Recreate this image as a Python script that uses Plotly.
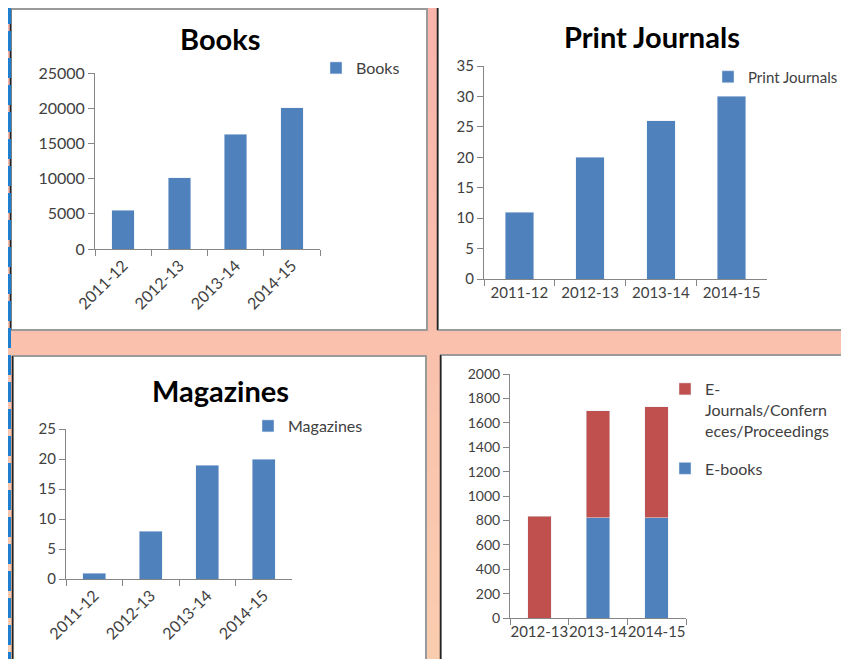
import plotly.graph_objects as go

# the page body keeps its 8px margin, so the figure is made smaller and everything is shifted
W, H = 849, 667
OFF = 8
FW, FH = W - OFF, H - 2 * OFF

# data
years4 = ["2011-12", "2012-13", "2013-14", "2014-15"]
books = [5500, 10100, 16300, 20100]
print_journals = [11, 20, 26, 30]
magazines = [1, 8, 19, 20]

years3 = ["2012-13", "2013-14", "2014-15"]
e_books = [0, 820, 820]
e_journals = [835, 880, 910]

BLUE = "#4F81BD"
RED = "#C0504D"
AXIS = "#868686"
TXT = "#404040"
FONT = "Lato, Calibri, sans-serif"


def px(x):
    return (x - OFF) / FW


def py(y):
    return 1 - (y - OFF) / FH


fig = go.Figure()

fig.add_trace(go.Bar(x=years4, y=books, name="Books", marker_color=BLUE,
                     xaxis="x", yaxis="y", legend="legend"))
fig.add_trace(go.Bar(x=years4, y=print_journals, name="Print Journals", marker_color=BLUE,
                     xaxis="x2", yaxis="y2", legend="legend2"))
fig.add_trace(go.Bar(x=years4, y=magazines, name="Magazines", marker_color=BLUE,
                     xaxis="x3", yaxis="y3", legend="legend3"))
fig.add_trace(go.Bar(x=years3, y=e_books, name="E-books", marker_color=BLUE,
                     xaxis="x4", yaxis="y4", legend="legend4", legendgroup="b",
                     legendrank=2))
fig.add_trace(go.Bar(x=years3, y=e_journals, name="E-<br>Journals/Confern<br>eces/Proceedings",
                     marker_color=RED, xaxis="x4", yaxis="y4", legend="legend4",
                     legendgroup="a", legendrank=1))


def xax(x0, x1, y_anchor, angle, size):
    return dict(domain=[px(x0), px(x1)], anchor=y_anchor, type="category",
                showline=True, linecolor=AXIS, linewidth=1, ticks="outside",
                tickson="boundaries", ticklen=6, tickcolor=AXIS, tickangle=angle,
                showgrid=False, tickfont=dict(size=size, color=TXT, family=FONT),
                fixedrange=True)


def yax(y0, y1, x_anchor, top, step, size):
    return dict(domain=[py(y1), py(y0)], anchor=x_anchor, range=[0, top], dtick=step,
                showline=True, linecolor=AXIS, linewidth=1, ticks="outside",
                ticklen=6, tickcolor=AXIS, showgrid=False, zeroline=False,
                tickformat="d", tickfont=dict(size=size, color=TXT, family=FONT),
                fixedrange=True)


shapes = []

# pink-to-peach background, drawn as horizontal bands
top_rgb, bot_rgb = (249, 180, 172), (250, 204, 174)
bands = 24
for i in range(bands):
    t = i / (bands - 1)
    c = tuple(round(a + (b - a) * t) for a, b in zip(top_rgb, bot_rgb))
    shapes.append(dict(type="rect", xref="paper", yref="paper", layer="below",
                       x0=-0.02, x1=1.02, y0=1 - (i + 1) / bands - 0.002, y1=1 - i / bands + 0.002,
                       fillcolor="rgb(%d,%d,%d)" % c, line=dict(width=0)))

# white panels
panels = [(11, 9, 427, 330), (438, 6, 860, 330), (13, 356, 426, 680), (441, 355, 860, 680)]
for x0, y0, x1, y1 in panels:
    shapes.append(dict(type="rect", xref="paper", yref="paper", layer="below",
                       x0=px(x0), x1=px(x1), y0=py(y1), y1=py(y0),
                       fillcolor="white", line=dict(color="#9a9a9a", width=2)))
    shapes.append(dict(type="line", xref="paper", yref="paper", layer="below",
                       x0=px(x0 - 0.5), x1=px(x0 - 0.5), y0=py(y1), y1=py(y0),
                       line=dict(color="#222222", width=1.5)))

# blue dashed strip on the left edge
shapes.append(dict(type="line", xref="paper", yref="paper", x0=px(9.5), x1=px(9.5),
                   y0=-0.02, y1=1.02, line=dict(color="#1E7FD0", width=3, dash="20px,7px")))

titles = [("Books", 220, 38), ("Print Journals", 652, 37), ("Magazines", 220, 390)]
annotations = [dict(text="<b>%s</b>" % t, x=px(x), y=py(y), xref="paper", yref="paper",
                    showarrow=False, xanchor="center", yanchor="middle",
                    font=dict(size=29, color="black", family=FONT))
               for t, x, y in titles]


def leg(x, y, anchor="middle", size=16):
    return dict(x=px(x), y=py(y), xanchor="left", yanchor=anchor, bgcolor="rgba(0,0,0,0)",
                font=dict(size=size, color=TXT, family=FONT), itemclick=False)


fig.update_layout(
    width=FW, height=FH, margin=dict(l=0, r=0, t=0, b=0, autoexpand=False),
    paper_bgcolor="#F9C0AD", plot_bgcolor="white",
    barmode="stack", bargap=0.6,
    font=dict(family=FONT, color=TXT),
    xaxis=xax(95, 320, "y", -45, 16), yaxis=yax(73, 249, "x", 25000, 5000, 16),
    xaxis2=xax(484, 767, "y2", 0, 15), yaxis2=yax(66, 279, "x2", 35, 5, 15),
    xaxis3=xax(66, 292, "y3", -45, 16), yaxis3=yax(429, 579, "x3", 25, 5, 15),
    xaxis4=xax(510, 686, "y4", 0, 15), yaxis4=yax(374, 618, "x4", 2000, 200, 14),
    legend=leg(316, 68), legend2=leg(708, 77, size=15), legend3=leg(248, 426),
    legend4=dict(leg(665, 372, "top"), traceorder="grouped",
                 tracegroupgap=14, valign="top"),
    shapes=shapes, annotations=annotations, showlegend=True,
)

fig.write_html("out.html")
